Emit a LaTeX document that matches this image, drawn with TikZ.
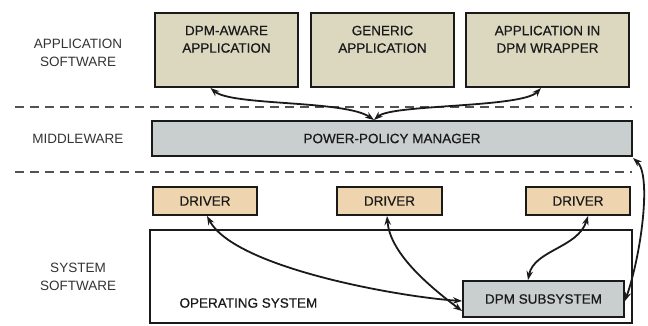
\documentclass[tikz,border=0pt]{standalone}
\usepackage{fontspec}
\setmainfont{Liberation Sans}
\newfontfamily\boxfont[FakeBold=0.6]{Liberation Sans}
\usetikzlibrary{arrows.meta}
\definecolor{appfill}{HTML}{DCD8C0}
\definecolor{midfill}{HTML}{C9CFCF}
\definecolor{drvfill}{HTML}{EED5B0}
\definecolor{inkcol}{HTML}{1A1A1A}
\definecolor{lblcol}{HTML}{333333}
\tikzset{
  blk/.style={draw=inkcol, line width=2pt, inner sep=0pt, align=center,
    font=\boxfont\fontsize{13.5}{17.5}\selectfont, text=inkcol},
  appbox/.style={blk, fill=appfill, minimum height=74pt},
  midbox/.style={blk, fill=midfill},
  drvbox/.style={blk, fill=drvfill, minimum height=28pt},
  layerlbl/.style={align=center, font=\fontsize{13.5}{18}\selectfont, text=lblcol},
  sep/.style={draw=lblcol!85, line width=1.2pt, dash pattern=on 9pt off 6pt},
  link/.style={draw=inkcol, line width=1.8pt,
    {Stealth[length=9pt,width=6.5pt]}-{Stealth[length=9pt,width=6.5pt]}},
}
\begin{document}
\begin{tikzpicture}[x=1pt,y=-1pt]
\useasboundingbox (0,0) rectangle (648,325);

% layer separators
\coordinate (s1a) at (15,107);  \coordinate (s1b) at (632,107);
\coordinate (s2a) at (15,172);  \coordinate (s2b) at (632,172);
\path[sep] (s1a) -- (s1b);
\path[sep] (s2a) -- (s2b);

% layer names
\node[layerlbl] (lapp) at (78,53) {APPLICATION\\SOFTWARE};
\node[layerlbl] (lmid) at (78,139) {MIDDLEWARE};
\node[layerlbl] (lsys) at (78,277) {SYSTEM\\SOFTWARE};

% application layer
\node[appbox, minimum width=143pt] (aware) at (226.5,50) {DPM-AWARE\\APPLICATION\\[4pt]};
\node[appbox, minimum width=143pt] (generic) at (382.5,50) {GENERIC\\APPLICATION\\[4pt]};
\node[appbox, minimum width=163pt] (wrap) at (547.5,50) {APPLICATION IN\\DPM WRAPPER\\[4pt]};

% middleware
\node[midbox, minimum width=480pt, minimum height=35pt] (ppm) at (392,138.5) {POWER-POLICY MANAGER};

% drivers
\node[drvbox, minimum width=104pt] (d1) at (205,201) {DRIVER};
\node[drvbox, minimum width=105pt] (d2) at (389.5,201) {DRIVER};
\node[drvbox, minimum width=104pt] (d3) at (578,201) {DRIVER};

% operating system
\node[blk, fill=white, minimum width=482pt, minimum height=93pt] (os) at (391,276.5) {};
\node[layerlbl, font=\boxfont\fontsize{13.5}{18}\selectfont, text=inkcol, anchor=west] (oslbl) at (176,303) {OPERATING SYSTEM};
\node[midbox, minimum width=161pt, minimum height=36pt] (dpm) at (543.5,299) {DPM SUBSYSTEM};

% connectors
\coordinate (ppmtop) at ([xshift=-18pt]ppm.north);
\path[link] ([xshift=-16pt]aware.south) .. controls (232,106) and (345,100) .. (ppmtop);
\path[link] (ppmtop) .. controls (392,104) and (522,108) .. ([xshift=-6.5pt]wrap.south);
\path[link] ([xshift=2pt]d1.south) .. controls (235,268) and (400,297) .. ([yshift=-2pt]dpm.west);
\path[link] ([xshift=-2.5pt]d2.south) .. controls (390,252) and (425,283) .. ([yshift=-12pt]dpm.west);
\path[link] ([xshift=10pt]d3.south) .. controls (578,248) and (534,250) .. ([xshift=-15.5pt]dpm.north);
\path[link] ([yshift=-2pt]dpm.east) .. controls (641,255) and (652,175) .. ([yshift=-1pt]ppm.south east);
\end{tikzpicture}
\end{document}
